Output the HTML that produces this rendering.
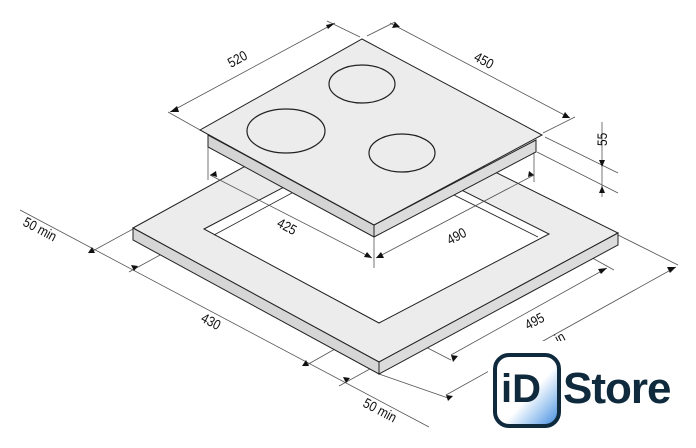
<!DOCTYPE html>
<html><head><meta charset="utf-8"><style>
html,body{margin:0;padding:0;background:#fff;}
svg{display:block}
text{font-family:"Liberation Sans Narrow","Liberation Sans",sans-serif;font-size:14px;fill:#111}
</style></head><body>
<svg width="696" height="448" viewBox="0 0 696 448" xmlns="http://www.w3.org/2000/svg">
<defs>
<linearGradient id="g" x1="0" y1="0" x2="1" y2="1">
<stop offset="0.55" stop-color="#fff"/><stop offset="0.75" stop-color="#a9cdf2"/><stop offset="1" stop-color="#3b86dc"/>
</linearGradient>
</defs>
<g stroke="#555" stroke-width="0.8" fill="none">
<line x1="20" y1="210" x2="429" y2="427"/>
<line x1="89" y1="253" x2="133" y2="229"/>
<line x1="129" y1="272" x2="204" y2="231"/>
<line x1="305" y1="366" x2="379" y2="324"/>
<line x1="339" y1="386" x2="379" y2="364"/>
<line x1="379" y1="323" x2="451" y2="360"/>
<line x1="549" y1="234" x2="614" y2="270"/>
<line x1="451" y1="355" x2="607" y2="268"/>
<line x1="379" y1="374" x2="448" y2="398"/>
<line x1="446" y1="395" x2="676" y2="267"/>
<line x1="618" y1="235" x2="678" y2="265"/>
</g>
<polygon points="133,228 358,104 618,233 379,362" fill="#ececec" stroke="#222" stroke-width="1"/>
<polygon points="133,228 379,362 379,374 133,240" fill="#d6d6d6" stroke="#222" stroke-width="1"/>
<polygon points="379,362 618,233 618,245 379,374" fill="#dcdcdc" stroke="#222" stroke-width="1"/>
<polygon points="204,229 368,143 549,234 379,323" fill="#fff" stroke="#222" stroke-width="1"/>
<polyline points="214,235 368,152 538,237" fill="none" stroke="#222" stroke-width="0.8"/>
<polygon points="208,135 374,225 374,237 208,147" fill="#d4d4d4" stroke="#222" stroke-width="1"/>
<polygon points="374,225 536,140 536,152 374,237" fill="#dcdcdc" stroke="#222" stroke-width="1"/>
<polygon points="200,130 362,39 542,135 374,225" fill="#ececec" stroke="#222" stroke-width="1"/>
<g fill="none" stroke="#222" stroke-width="1.2">
<ellipse cx="286" cy="131" rx="39" ry="22"/>
<ellipse cx="362" cy="84" rx="33" ry="19"/>
<ellipse cx="402" cy="153" rx="33" ry="19"/>
</g>
<g stroke="#555" stroke-width="0.8" fill="none">
<line x1="200" y1="130" x2="168" y2="112"/>
<line x1="360" y1="37" x2="327" y2="21"/>
<line x1="170" y1="112" x2="335" y2="23"/>
<line x1="367" y1="36" x2="395" y2="22"/>
<line x1="390" y1="23" x2="570" y2="118"/>
<line x1="543" y1="133" x2="575" y2="117"/>
<line x1="545" y1="137" x2="618" y2="173"/>
<line x1="537" y1="152" x2="618" y2="193"/>
<line x1="602" y1="122" x2="602" y2="197"/>
<line x1="208" y1="147" x2="208" y2="180"/>
<line x1="534" y1="152" x2="534" y2="182"/>
<line x1="374" y1="237" x2="374" y2="268"/>
<line x1="210" y1="175" x2="372" y2="258"/>
<line x1="376" y1="258" x2="534" y2="175"/>
</g>
<g fill="#111">
<polygon points="170,112 177,106 179,112"/>
<polygon points="335,23 326,25 328,29"/>
<polygon points="395,22 392,28 400,27"/>
<polygon points="570,118 562,118 565,112"/>
<polygon points="602,167 599,160 605,160"/>
<polygon points="602,186 599,193 605,193"/>
<polygon points="210,175 216,171 217,177"/>
<polygon points="372,258 364,257 367,252"/>
<polygon points="376,258 381,252 384,258"/>
<polygon points="534,175 528,177 529,171"/>
<polygon points="92,247 88,253 95,253"/>
<polygon points="134,271 131,265 138,266"/>
<polygon points="306,360 302,366 309,366"/>
<polygon points="346,383 343,377 350,378"/>
<polygon points="451,355 453,362 458,356"/>
<polygon points="607,268 598,269 601,274"/>
<polygon points="446,395 448,401 453,396"/>
<polygon points="676,267 667,267 670,273"/>
</g>
<text transform="translate(231,68) rotate(-29) scale(0.85,1)">520</text>
<text transform="translate(473,60) rotate(28) scale(0.85,1)">450</text>
<text transform="translate(607,146) rotate(-90) scale(0.85,1)">55</text>
<text transform="translate(276,226) rotate(28) scale(0.85,1)">425</text>
<text transform="translate(450,245) rotate(-28) scale(0.85,1)">490</text>
<text transform="translate(200,321) rotate(28) scale(0.85,1)">430</text>
<text transform="translate(528,330) rotate(-28) scale(0.85,1)">495</text>
<text transform="translate(22,225) rotate(28) scale(0.85,1)">50 min</text>
<text transform="translate(362,406) rotate(28) scale(0.85,1)">50 min</text>
<text transform="translate(558,344) rotate(-28) scale(0.85,1)">in</text>
<rect x="488" y="341" width="208" height="107" fill="#fff"/>
<rect x="495" y="355" width="64" height="71" rx="14" fill="url(#g)" stroke="#0f2a3d" stroke-width="4"/>
<text x="501" y="402" style="font-family:'Liberation Sans',sans-serif;font-size:40px;font-weight:bold;fill:#0f2a3d">iD</text>
<text x="563" y="403" style="font-family:'Liberation Sans',sans-serif;font-size:44px;font-weight:bold;fill:#0f2a3d;letter-spacing:-1px">Store</text>
</svg>
</body></html>
